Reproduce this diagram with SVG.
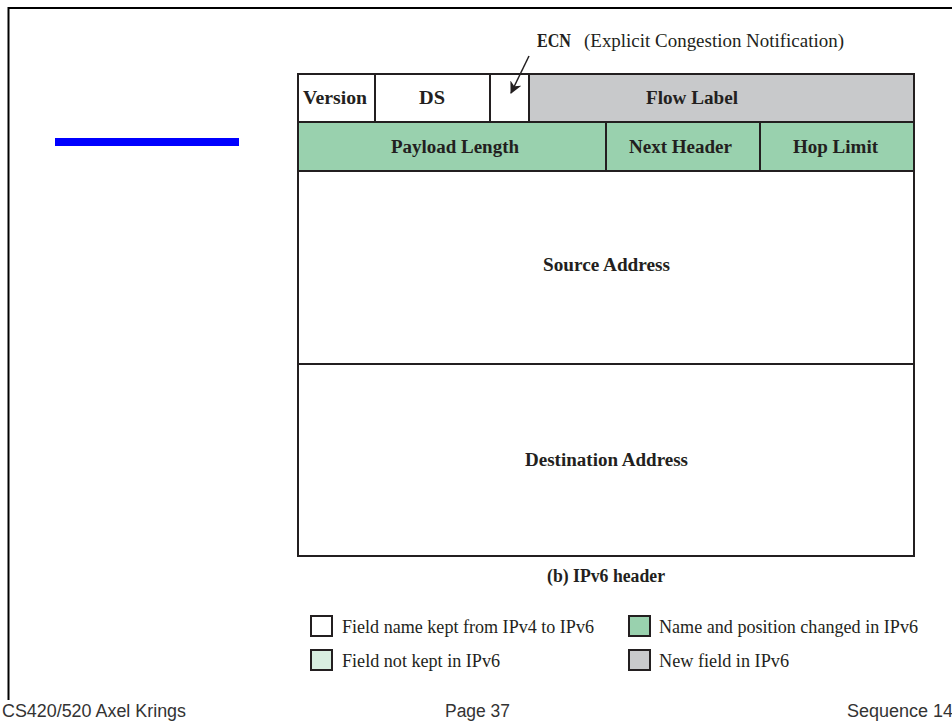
<svg xmlns="http://www.w3.org/2000/svg" width="952" height="721" viewBox="0 0 952 721">
  <style>
    .cell { stroke: #231f20; stroke-width: 2; }
    .white { fill: #ffffff; }
    .green { fill: #99d1ae; }
    .gray { fill: #c8c9cb; }
    .pale { fill: #d8eee0; }
    .lbl { font-family: "Liberation Serif", "Times New Roman", serif; font-weight: bold; font-size: 18px; fill: #231f20; }
    .note { font-family: "Liberation Serif", "Times New Roman", serif; font-size: 18px; fill: #231f20; }
    .foot { font-family: "Liberation Sans", Arial, sans-serif; font-size: 18px; fill: #333333; }
  </style>
  <defs>
    <marker id="arrow" markerWidth="12" markerHeight="12" refX="11" refY="6" orient="auto" markerUnits="userSpaceOnUse">
      <path d="M0,0 L12,6 L0,12 L3.5,6 Z" fill="#231f20"/>
    </marker>
  </defs>

  <rect width="952" height="721" fill="#ffffff"/>

  <!-- slide frame -->
  <g id="frame" fill="none" stroke="#000000" stroke-width="2">
    <line x1="8.5" y1="8" x2="952" y2="8"/>
    <line x1="8.5" y1="7" x2="8.5" y2="700"/>
  </g>
  <rect id="title-bar" x="55" y="138" width="184" height="8" fill="#0000ff"/>

  <!-- row 1 -->
  <g id="version"><rect class="cell white" x="298" y="74" width="77" height="48"/><text class="lbl" x="303" y="104" textLength="64" lengthAdjust="spacingAndGlyphs">Version</text></g>
  <g id="ds"><rect class="cell white" x="375" y="74" width="115" height="48"/><text class="lbl" x="419" y="104" textLength="26" lengthAdjust="spacingAndGlyphs">DS</text></g>
  <g id="ecn-field"><rect class="cell white" x="490" y="74" width="39" height="48"/></g>
  <g id="flow-label"><rect class="cell gray" x="529" y="74" width="385" height="48"/><text class="lbl" x="646" y="104" textLength="92" lengthAdjust="spacingAndGlyphs">Flow Label</text></g>

  <!-- row 2 -->
  <g id="payload-length"><rect class="cell green" x="298" y="122" width="308" height="49"/><text class="lbl" x="391" y="153" textLength="128" lengthAdjust="spacingAndGlyphs">Payload Length</text></g>
  <g id="next-header"><rect class="cell green" x="606" y="122" width="154" height="49"/><text class="lbl" x="629" y="153" textLength="103" lengthAdjust="spacingAndGlyphs">Next Header</text></g>
  <g id="hop-limit"><rect class="cell green" x="760" y="122" width="154" height="49"/><text class="lbl" x="793" y="153" textLength="85" lengthAdjust="spacingAndGlyphs">Hop Limit</text></g>

  <!-- addresses -->
  <g id="source-address"><rect class="cell white" x="298" y="171" width="616" height="193"/><text class="lbl" x="543" y="271" textLength="127" lengthAdjust="spacingAndGlyphs">Source Address</text></g>
  <g id="destination-address"><rect class="cell white" x="298" y="364" width="616" height="192"/><text class="lbl" x="525" y="466" textLength="163" lengthAdjust="spacingAndGlyphs">Destination Address</text></g>

  <!-- ECN callout -->
  <g id="ecn-label">
    <text class="lbl" x="537" y="47" textLength="34" lengthAdjust="spacingAndGlyphs">ECN</text>
    <text class="note" x="584" y="47" textLength="260" lengthAdjust="spacingAndGlyphs">(Explicit Congestion Notification)</text>
  </g>
  <g id="connectors">
    <line x1="529" y1="56" x2="511" y2="93" stroke="#231f20" stroke-width="1.5" marker-end="url(#arrow)"/>
  </g>

  <text class="lbl" x="547" y="582" textLength="118" lengthAdjust="spacingAndGlyphs">(b) IPv6 header</text>

  <!-- legend -->
  <g id="legend">
    <rect class="cell white" x="311" y="616" width="21" height="20"/>
    <text class="note" x="342" y="633" textLength="252" lengthAdjust="spacingAndGlyphs">Field name kept from IPv4 to IPv6</text>
    <rect class="cell pale" x="311" y="650" width="21" height="20"/>
    <text class="note" x="342" y="667" textLength="158" lengthAdjust="spacingAndGlyphs">Field not kept in IPv6</text>
    <rect class="cell green" x="629" y="616" width="21" height="20"/>
    <text class="note" x="659" y="633" textLength="259" lengthAdjust="spacingAndGlyphs">Name and position changed in IPv6</text>
    <rect class="cell gray" x="629" y="650" width="21" height="20"/>
    <text class="note" x="659" y="667" textLength="130" lengthAdjust="spacingAndGlyphs">New field in IPv6</text>
  </g>

  <!-- footer -->
  <text class="foot" x="2" y="717" textLength="184" lengthAdjust="spacingAndGlyphs">CS420/520 Axel Krings</text>
  <text class="foot" x="445" y="717" textLength="65" lengthAdjust="spacingAndGlyphs">Page 37</text>
  <text class="foot" x="847" y="717">Sequence 14</text>
</svg>
